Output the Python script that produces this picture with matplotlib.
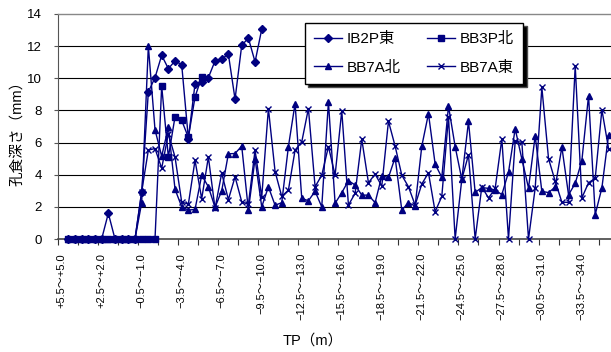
import numpy as np
import matplotlib
matplotlib.use("Agg")
import matplotlib.pyplot as plt

plt.rcParams['font.family'] = ['Liberation Sans', 'Noto Sans CJK JP', 'DejaVu Sans']
plt.rcParams['axes.unicode_minus'] = True

nan = np.nan

# 孔食深さ (mm), 0.5m刻みのTP区間ごと (index 0 = +5.5～+5.0)
ib2p_east = [nan, 0, 0, 0, 0, 0, 0, 1.6, 0, 0, 0, 0,
             2.9, 9.15, 10.04, 11.43, 10.6, 11.08, 10.85, 6.25, 9.65, 9.75,
             10.04, 11.08, 11.2, 11.5, 8.7, 12.05, 12.5, 11.02, 13.05]
bb3p_north = [nan, 0, 0, 0, 0, 0, 0, 0, 0, 0, 0, 0, 0, 0, 0,
              9.52, 5.1, 7.6, 7.38, 6.32, 8.84, 10.08]
bb7a_north = [nan, 0, 0, 0, 0, 0, 0, 0, 0, 0, 0, 0,
              2.25, 12.0, 6.8, 5.15, 6.95, 3.1, 2.0, 1.8, 1.84, 3.97,
              3.25, 1.97, 3.0, 5.3, 5.32, 5.78, 1.8, 5.0, 2.0, 3.25,
              2.1, 2.26, 5.75, 8.43, 2.53, 2.38, 2.97, 2.0, 8.53, 2.22,
              2.88, 3.63, 3.36, 2.73, 2.73, 2.26, 3.92, 3.83, 5.07, 1.8,
              2.26, 2.05, 5.78, 7.8, 4.66, 3.83, 8.27, 5.75, 3.71, 7.32,
              2.9, 3.2, 3.15, 3.05, 2.76, 4.16, 6.86, 4.98, 3.17, 6.42,
              2.96, 2.89, 3.23, 5.72, 2.75, 3.46, 4.88, 8.92, 1.52, 3.18,
              6.47]
bb7a_east = [nan, 0, 0, 0, 0, 0, 0, 0, 0, 0, 0, 0,
             2.95, 5.53, 5.63, 4.4, 6.55, 5.1, 2.3, 2.17, 4.9, 2.5,
             5.1, 1.9, 4.1, 2.45, 3.87, 2.32, 2.15, 5.53, 2.6, 8.12,
             4.2, 2.65, 3.04, 5.53, 6.04, 8.12, 3.25, 3.97, 5.75, 3.97,
             7.98, 2.11, 2.84, 6.21, 3.5, 4.04, 3.29, 7.33, 5.78, 3.97,
             3.25, 2.11, 3.42, 4.12, 1.7, 2.65, 7.6, 0, 3.72, 5.24,
             0, 3.25, 2.55, 3.15, 6.23, 0, 6.07, 6.02, 0, 3.17,
             9.43, 5.0, 3.6, 2.29, 2.28, 10.77, 2.56, 3.5, 3.78, 8.04,
             5.63]

# ラベルを表示する区間 (6区間おき)
label_pos = [0, 6, 12, 18, 24, 30, 36, 42, 48, 54, 60, 66, 72, 78]
label_txt = ["+5.5～+5.0", "+2.5～+2.0", "−0.5～−1.0", "−3.5～−4.0",
             "−6.5～−7.0", "−9.5～−10.0", "−12.5～−13.0", "−15.5～−16.0",
             "−18.5～−19.0", "−21.5～−22.0", "−24.5～−25.0", "−27.5～−28.0",
             "−30.5～−31.0", "−33.5～−34.0"]

navy = "#000080"

fig = plt.figure(figsize=(6.11, 3.52), dpi=100)
# 右端は図の外まで伸ばして切れた状態を再現
ax = fig.add_axes([58.3 / 611, 113 / 352, 573.6 / 611, 225 / 352])

series = [
    (ib2p_east, "D", 4.0, "IB2P東"),
    (bb3p_north, "s", 4.2, "BB3P北"),
    (bb7a_north, "^", 5.0, "BB7A北"),
    (bb7a_east, "x", 4.8, "BB7A東"),
]
handles = []
for vals, mk, ms, lab in series:
    x = np.arange(len(vals))
    h, = ax.plot(x, vals, color=navy, lw=1.0, marker=mk, ms=ms,
                 mfc=navy, mec=navy, mew=1.0, label=lab, clip_on=False, zorder=3)
    handles.append(h)

ax.set_xlim(-0.5, 85.5)
ax.set_ylim(0, 14)
ax.set_yticks(np.arange(0, 15, 2))
ax.tick_params(axis="y", direction="out", length=3, width=0.8, color="#555555",
               labelsize=9.5, pad=9)
for yv in range(2, 13, 2):
    ax.axhline(yv, color="black", lw=0.8, zorder=1)

ax.set_xticks(np.arange(-0.5, 86, 3))
ax.set_xticklabels([])
ax.tick_params(axis="x", which="major", direction="out", length=4, width=0.8,
               color="#333333")
ax.set_xticks(label_pos, minor=True)
ax.set_xticklabels(label_txt, minor=True, rotation=90, fontsize=8)
ax.tick_params(axis="x", which="minor", length=0, pad=10)

ax.spines["right"].set_visible(False)
ax.spines["top"].set_color("#888888")
ax.spines["top"].set_linewidth(1.0)
ax.spines["left"].set_color("#555555")
ax.spines["bottom"].set_color("#444444")
ax.spines["bottom"].set_linewidth(1.2)

fig.text(17 / 611, 1 - 130 / 352, "孔食深さ（mm）", rotation=90,
         ha="center", va="center", fontsize=10.5)
fig.text(313 / 611, 1 - 341 / 352, "TP（m）", ha="center", va="center", fontsize=10.5)

order = [handles[0], handles[2], handles[1], handles[3]]
leg = ax.legend(order, [h.get_label() for h in order], ncol=2,
                loc="upper left", bbox_to_anchor=(305 / 611, 1 - 23 / 352),
                bbox_transform=fig.transFigure, borderaxespad=0,
                fancybox=False, framealpha=1, edgecolor="black",
                shadow={"facecolor": "black", "alpha": 1, "ox": 2.5, "oy": -2.5},
                fontsize=11, handlelength=1.85, columnspacing=1.7,
                labelspacing=0.95, borderpad=0.6, handletextpad=0.3)
leg.get_frame().set_linewidth(1.0)
for h in leg.legend_handles:
    h.set_markersize(4)

fig.savefig("out.png", dpi=100)
